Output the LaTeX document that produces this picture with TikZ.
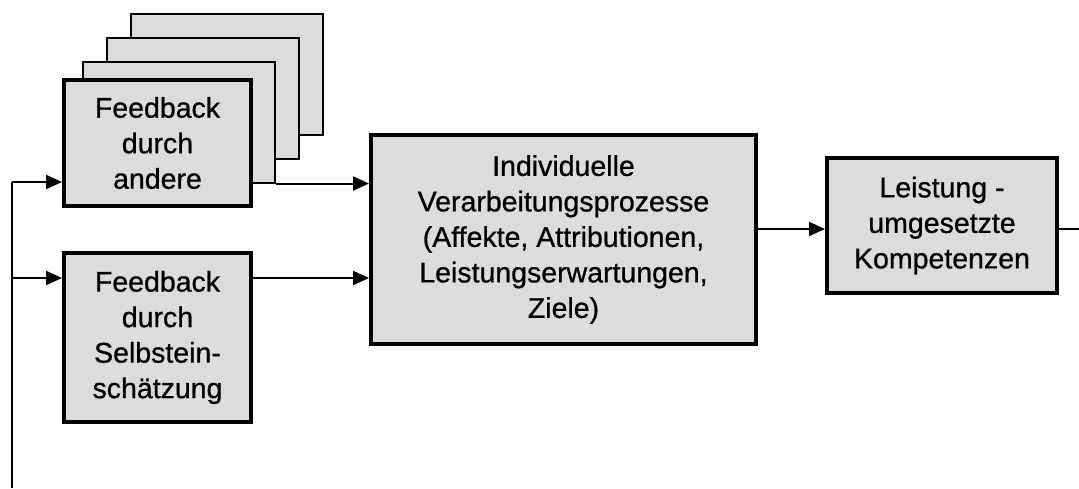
\documentclass[tikz,border=0pt]{standalone}
\usepackage{fontspec}
\setmainfont{Liberation Sans}[FakeBold=0.8]
\usetikzlibrary{arrows.meta}
\definecolor{boxgray}{RGB}{220,220,220}
\begin{document}
\begin{tikzpicture}[x=1pt,y=-1pt,
  box/.style={draw=black, fill=boxgray, line width=4pt, rectangle, inner sep=0pt,
    align=center, font=\fontsize{28.5}{35.5}\selectfont},
  backbox/.style={draw=black, fill=boxgray, line width=2pt, rectangle, inner sep=0pt,
    minimum width=192pt, minimum height=121pt},
  arr/.style={line width=2pt, -{Triangle[length=16pt,width=14pt]}},
  ln/.style={line width=2pt}]
\useasboundingbox (0,0) rectangle (1079,488);
% stacked back boxes
\node[backbox] (b4) at (227,74.5) {};
\node[backbox] (b3) at (203,98.5) {};
\node[backbox] (b2) at (179,122) {};
% main boxes
\node[box, minimum width=187pt, minimum height=126pt] (fa) at (157.5,143)
  {Feedback\\durch\\andere};
\node[box, minimum width=187pt, minimum height=169pt] (fb) at (157.5,337.5)
  {Feedback\\durch\\Selbstein-\\schätzung};
\node[box, minimum width=385pt, minimum height=209pt] (main) at (563.5,239.5)
  {Individuelle\\Verarbeitungsprozesse\\(Affekte, Attributionen,\\Leistungserwartungen,\\Ziele)};
\node[box, minimum width=230pt, minimum height=135pt] (lei) at (942,225.5)
  {Leistung -\\umgesetzte\\Kompetenzen};
% coordinates
\coordinate (L0) at (12,488);
\coordinate (L1) at (12,182);
\coordinate (L2) at (12,278);
\coordinate (R) at (1079,229);
\coordinate (M) at (756,229);
% connectors
\draw[ln] (L0) -- (L1);
\draw[arr] (L1) -- (fa.west |- L1);
\draw[arr] (L2) -- (fb.west |- L2);
\draw[arr] (b2.south east) -- (main.west |- b2.south east);
\draw[arr] (fb.east |- L2) -- (main.west |- L2);
\draw[arr] (main.east |- M) -- (lei.west |- M);
\draw[ln] (lei.east |- R) -- (R);
\end{tikzpicture}
\end{document}
